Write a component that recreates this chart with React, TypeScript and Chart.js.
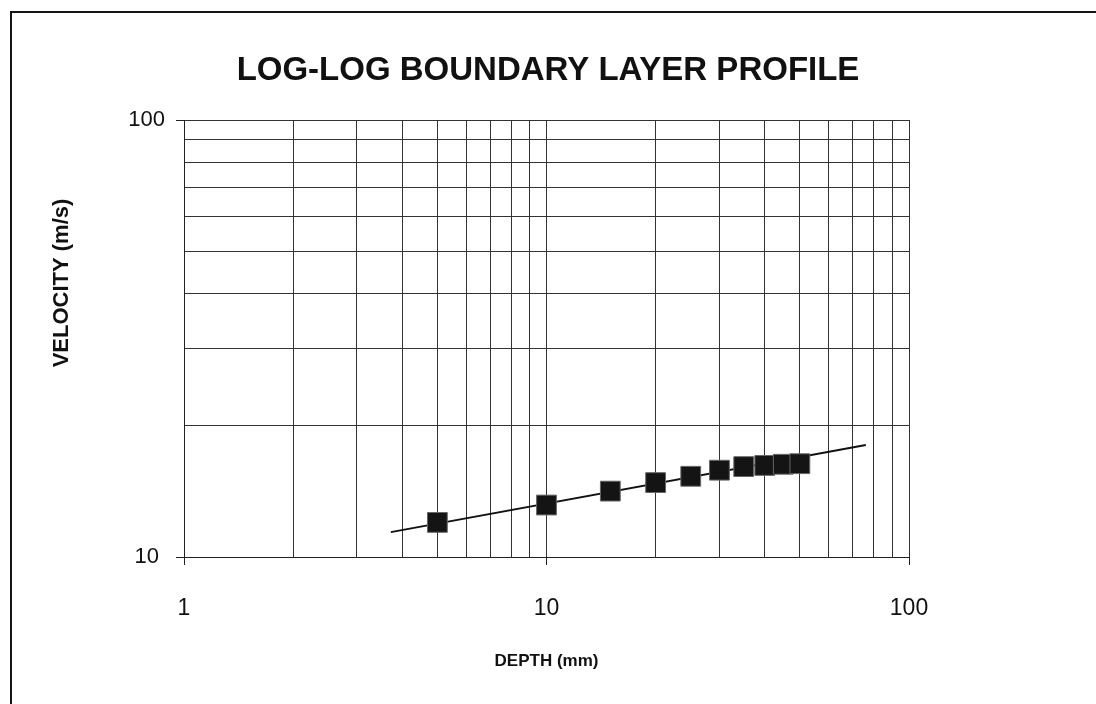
import React, { useEffect, useRef } from "react";
import { Chart, registerables } from "chart.js";

Chart.register(...registerables);

const depthMm = [5, 10, 15, 20, 25, 30, 35, 40, 45, 50];
const velocityMs = [12.0, 13.15, 14.15, 14.8, 15.3, 15.8, 16.1, 16.2, 16.3, 16.35];
const trendDepth = [3.72, 76];
const trendVelocity = [11.4, 18.05];
const xTickValues = [1, 2, 3, 4, 5, 6, 7, 8, 9, 10, 20, 30, 40, 50, 60, 70, 80, 90, 100];
const yTickValues = [10, 20, 30, 40, 50, 60, 70, 80, 90, 100];
const xLabels = [1, 10, 100];
const yLabels = [10, 100];
const yTitle = "VELOCITY (m/s)";

const FONT = "'Liberation Sans', Arial, Helvetica, sans-serif";

const yTitlePlugin = {
  id: "yTitlePlugin",
  afterDraw(chart: any) {
    const ctx = chart.ctx;
    ctx.save();
    ctx.translate(62, 283);
    ctx.rotate(-Math.PI / 2);
    ctx.textAlign = "center";
    ctx.textBaseline = "middle";
    ctx.fillStyle = "#111";
    ctx.font = `bold 22px ${FONT}`;
    ctx.fillText(yTitle, 0, 0);
    ctx.restore();
  },
};

export default function App() {
  const ref = useRef<HTMLCanvasElement | null>(null);

  useEffect(() => {
    if (!ref.current) return;
    const chart = new Chart(ref.current, {
      type: "scatter",
      data: {
        datasets: [
          {
            label: "Trend",
            data: trendDepth.map((x, i) => ({ x, y: trendVelocity[i] })),
            showLine: true,
            borderColor: "#111",
            borderWidth: 2,
            pointRadius: 0,
            order: 2,
          },
          {
            label: "Measured",
            data: depthMm.map((x, i) => ({ x, y: velocityMs[i] })),
            pointStyle: "rect",
            pointRadius: 14,
            backgroundColor: "#141414",
            borderColor: "#666",
            borderWidth: 1,
            order: 1,
          },
        ],
      },
      options: {
        animation: false,
        responsive: false,
        devicePixelRatio: 1,
        layout: { padding: 0 },
        plugins: {
          legend: { display: false },
          tooltip: { enabled: false },
          title: {
            display: true,
            text: "LOG-LOG BOUNDARY LAYER PROFILE",
            color: "#111",
            font: { family: FONT, size: 33, weight: "bold" },
            padding: { top: 51, bottom: 120 - 51 - 33 * 1.2 },
          },
        },
        scales: {
          x: {
            type: "logarithmic",
            min: 1,
            max: 100,
            afterBuildTicks: (s: any) => {
              s.ticks = xTickValues.map((v) => ({ value: v, major: xLabels.includes(v) }));
            },
            afterFit: (s: any) => {
              s.height = 704 - 557;
            },
            grid: {
              color: "#333",
              lineWidth: 1,
              drawTicks: true,
              tickLength: 8,
              tickColor: (c: any) => (c.tick && xLabels.includes(c.tick.value) ? "#222" : "rgba(0,0,0,0)"),
            },
            border: { color: "#222", width: 1 },
            ticks: {
              autoSkip: false,
              maxRotation: 0,
              padding: 30,
              color: "#111",
              font: { family: FONT, size: 23 },
              callback: (v: any) => (xLabels.includes(Number(v)) ? String(v) : ""),
            },
            title: {
              display: true,
              text: "DEPTH (mm)",
              color: "#111",
              font: { family: FONT, size: 17, weight: "bold" },
              padding: { top: 0, bottom: 32 },
            },
          },
          y: {
            type: "logarithmic",
            min: 10,
            max: 100,
            afterBuildTicks: (s: any) => {
              s.ticks = yTickValues.map((v) => ({ value: v, major: yLabels.includes(v) }));
            },
            afterFit: (s: any) => {
              s.width = 184;
            },
            grid: {
              color: "#333",
              lineWidth: 1,
              drawTicks: true,
              tickLength: 8,
              tickColor: (c: any) => (c.tick && yLabels.includes(c.tick.value) ? "#222" : "rgba(0,0,0,0)"),
            },
            border: { color: "#222", width: 1 },
            ticks: {
              autoSkip: false,
              crossAlign: "center",
              padding: 11,
              color: "#111",
              font: { family: FONT, size: 22 },
              callback: (v: any) => (yLabels.includes(Number(v)) ? String(v) : ""),
            },
            title: { display: false },
          },
          yRight: {
            type: "linear",
            position: "right",
            display: true,
            afterFit: (s: any) => {
              s.width = 1096 - 909;
            },
            grid: { display: false, drawTicks: false },
            border: { display: false },
            ticks: { display: false },
          },
        },
      },
      plugins: [yTitlePlugin],
    } as any);
    return () => chart.destroy();
  }, []);

  return (
    <div>
      <div
        style={{
          position: "fixed",
          left: 10,
          top: 11,
          width: 1200,
          height: 800,
          borderLeft: "2px solid #151515",
          borderTop: "2px solid #151515",
          boxSizing: "border-box",
          pointerEvents: "none",
          zIndex: 2,
        }}
      />
      <canvas
        ref={ref}
        width={1096}
        height={704}
        style={{ position: "fixed", left: 0, top: 0, width: 1096, height: 704, background: "#fff" }}
      />
    </div>
  );
}
